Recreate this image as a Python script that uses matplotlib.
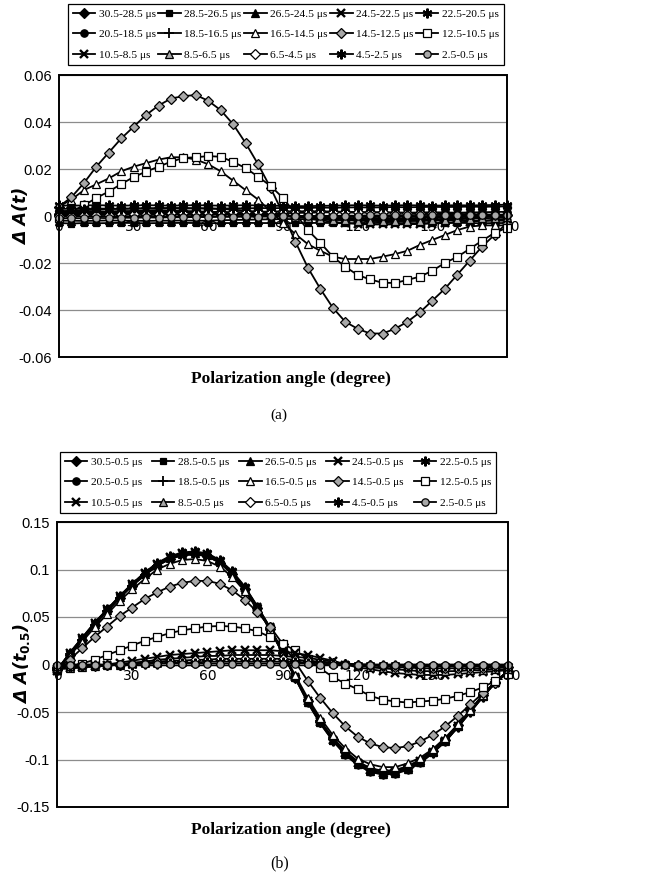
import matplotlib
matplotlib.use('Agg')
import matplotlib.pyplot as plt
from matplotlib.patches import Rectangle

plt.rcParams['mathtext.fontset'] = 'custom'
plt.rcParams['mathtext.it'] = 'DejaVu Sans:italic:bold'
plt.rcParams['mathtext.rm'] = 'DejaVu Sans:bold'

angles = [0, 5, 10, 15, 20, 25, 30, 35, 40, 45, 50, 55, 60, 65, 70, 75, 80, 85, 90,
          95, 100, 105, 110, 115, 120, 125, 130, 135, 140, 145, 150, 155, 160, 165, 170, 175, 180]

labels_a = ['30.5-28.5 μs', '28.5-26.5 μs', '26.5-24.5 μs', '24.5-22.5 μs', '22.5-20.5 μs',
            '20.5-18.5 μs', '18.5-16.5 μs', '16.5-14.5 μs', '14.5-12.5 μs', '12.5-10.5 μs',
            '10.5-8.5 μs', '8.5-6.5 μs', '6.5-4.5 μs', '4.5-2.5 μs', '2.5-0.5 μs']
labels_b = ['30.5-0.5 μs', '28.5-0.5 μs', '26.5-0.5 μs', '24.5-0.5 μs', '22.5-0.5 μs',
            '20.5-0.5 μs', '18.5-0.5 μs', '16.5-0.5 μs', '14.5-0.5 μs', '12.5-0.5 μs',
            '10.5-0.5 μs', '8.5-0.5 μs', '6.5-0.5 μs', '4.5-0.5 μs', '2.5-0.5 μs']

# ---------------- panel (a) data ----------------
a_30_28 = [0.001, 0.001, 0.0012, 0.001, 0.001, 0.0012, 0.001, 0.001, 0.001, 0.0012, 0.001, 0.001, 0.001,
           0.0008, 0.001, 0.0008, 0.0006, 0.0005, 0.0003, 0.0, -0.0002, -0.0004, -0.0006, -0.0008, -0.001,
           -0.001, -0.001, -0.001, -0.001, -0.0008, -0.0008, -0.0006, -0.0005, -0.0003, -0.0001, 0.0001, 0.0003]
a_28_26 = [-0.003, -0.0032, -0.003, -0.0031, -0.003, -0.0029, -0.003, -0.0031, -0.003, -0.003, -0.0029,
           -0.003, -0.0031, -0.003, -0.003, -0.0029, -0.003, -0.003, -0.0031, -0.003, -0.003, -0.0029,
           -0.003, -0.0031, -0.003, -0.003, -0.0029, -0.003, -0.003, -0.0031, -0.003, -0.003, -0.0029,
           -0.003, -0.0031, -0.003, -0.003]
a_26_24 = [-0.002, -0.002, -0.0021, -0.002, -0.0019, -0.002, -0.002, -0.0021, -0.002, -0.002, -0.0019,
           -0.002, -0.002, -0.0018, -0.0017, -0.0016, -0.0015, -0.0014, -0.0013, -0.0013, -0.0014, -0.0015,
           -0.0016, -0.0017, -0.0018, -0.0019, -0.002, -0.002, -0.0021, -0.002, -0.002, -0.0019, -0.002,
           -0.002, -0.0021, -0.002, -0.002]
a_24_22 = [0.002, 0.0021, 0.002, 0.002, 0.0019, 0.002, 0.002, 0.0021, 0.002, 0.002, 0.0019, 0.0018, 0.0016,
           0.0014, 0.0012, 0.001, 0.0007, 0.0004, 0.0001, -0.0002, -0.0005, -0.0008, -0.001, -0.0012, -0.0014,
           -0.0015, -0.0016, -0.0016, -0.0016, -0.0015, -0.0014, -0.0012, -0.001, -0.0008, -0.0005, -0.0002, 0.0001]
a_22_20 = [0.0045, 0.0044, 0.0045, 0.0046, 0.0045, 0.0044, 0.0045, 0.0046, 0.0045, 0.0044, 0.0045, 0.0046,
           0.0045, 0.0044, 0.0045, 0.0046, 0.0045, 0.0044, 0.0043, 0.0042, 0.0042, 0.0043, 0.0044, 0.0045,
           0.0046, 0.0045, 0.0044, 0.0045, 0.0046, 0.0045, 0.0044, 0.0045, 0.0046, 0.0045, 0.0046, 0.0047, 0.0048]
a_20_18 = [0.0015, 0.0016, 0.0015, 0.0014, 0.0015, 0.0016, 0.0015, 0.0014, 0.0015, 0.0016, 0.0015, 0.0014,
           0.0015, 0.0016, 0.0015, 0.0014, 0.0013, 0.0012, 0.0012, 0.0013, 0.0014, 0.0015, 0.0016, 0.0015,
           0.0014, 0.0015, 0.0016, 0.0015, 0.0014, 0.0015, 0.0016, 0.0015, 0.0014, 0.0015, 0.0016, 0.0017, 0.0018]
a_18_16 = [0.0005, 0.0006, 0.0005, 0.0004, 0.0005, 0.0006, 0.0005, 0.0004, 0.0005, 0.0006, 0.0005, 0.0004,
           0.0005, 0.0006, 0.0005, 0.0004, 0.0003, 0.0002, 0.0001, 0.0, -0.0001, -0.0002, -0.0003, -0.0003,
           -0.0004, -0.0004, -0.0004, -0.0003, -0.0003, -0.0002, -0.0001, 0.0, 0.0001, 0.0002, 0.0003, 0.0004, 0.0005]
a_16_14 = [0.004, 0.007, 0.011, 0.0135, 0.016, 0.019, 0.021, 0.0225, 0.024, 0.025, 0.025, 0.024, 0.022,
           0.019, 0.015, 0.011, 0.007, 0.002, -0.003, -0.0077, -0.012, -0.0148, -0.0173, -0.0183, -0.0183,
           -0.0183, -0.0173, -0.0162, -0.0148, -0.0123, -0.0102, -0.0081, -0.006, -0.0045, -0.004, -0.004, -0.004]
a_14_12 = [0.004, 0.008, 0.014, 0.021, 0.027, 0.033, 0.038, 0.043, 0.047, 0.050, 0.051, 0.0515, 0.049,
           0.045, 0.039, 0.031, 0.022, 0.012, 0.001, -0.011, -0.022, -0.031, -0.039, -0.045, -0.048, -0.050,
           -0.050, -0.048, -0.045, -0.041, -0.036, -0.031, -0.025, -0.019, -0.013, -0.008, -0.003]
a_12_10 = [-0.001, 0.002, 0.0045, 0.0077, 0.0104, 0.0136, 0.0166, 0.0189, 0.021, 0.0231, 0.0247, 0.025,
           0.0255, 0.0252, 0.023, 0.0204, 0.0167, 0.0128, 0.0077, 0.001, -0.006, -0.0114, -0.0173, -0.0216,
           -0.0251, -0.027, -0.0284, -0.0285, -0.0272, -0.0258, -0.0233, -0.020, -0.0174, -0.014, -0.0105,
           -0.0072, -0.005]
a_10_8 = [0.002, 0.0022, 0.0025, 0.0027, 0.003, 0.0031, 0.0032, 0.0033, 0.0034, 0.0034, 0.0034, 0.0033,
          0.0032, 0.003, 0.0027, 0.0023, 0.0018, 0.0012, 0.0005, -0.0002, -0.001, -0.0018, -0.0025, -0.003,
          -0.0034, -0.0036, -0.0036, -0.0036, -0.0035, -0.0034, -0.0032, -0.003, -0.0027, -0.0024, -0.002,
          -0.0016, -0.0012]
a_8_6 = [0.001, 0.0012, 0.0014, 0.0016, 0.0018, 0.002, 0.0021, 0.0022, 0.0022, 0.0022, 0.0021, 0.002,
         0.0018, 0.0016, 0.0013, 0.001, 0.0007, 0.0004, 0.0, -0.0004, -0.0008, -0.0012, -0.0015, -0.0018,
         -0.002, -0.0021, -0.0022, -0.0022, -0.0021, -0.002, -0.0018, -0.0016, -0.0014, -0.0012, -0.001,
         -0.0008, -0.0006]
a_6_4 = [0.0, 0.0002, 0.0004, 0.0005, 0.0006, 0.0007, 0.0008, 0.0009, 0.001, 0.0011, 0.0012, 0.0013,
         0.0014, 0.0015, 0.0016, 0.0017, 0.0018, 0.0019, 0.002, 0.002, 0.002, 0.002, 0.0019, 0.0018, 0.0017,
         0.0016, 0.0015, 0.0014, 0.0013, 0.0012, 0.0011, 0.001, 0.0009, 0.0008, 0.0007, 0.0006, 0.0005]
a_4_2 = [0.003, 0.0031, 0.003, 0.0032, 0.0031, 0.003, 0.0032, 0.0031, 0.003, 0.0032, 0.0031, 0.0033,
         0.0032, 0.0031, 0.0033, 0.0032, 0.0034, 0.0033, 0.0034, 0.0035, 0.0034, 0.0036, 0.0035, 0.0036,
         0.0037, 0.0036, 0.0037, 0.0038, 0.0037, 0.0038, 0.0039, 0.0038, 0.0039, 0.004, 0.0039, 0.004, 0.0041]
a_2_0 = [-0.001, -0.0009, -0.001, -0.0008, -0.0009, -0.0007, -0.0008, -0.0006, -0.0007, -0.0005, -0.0006,
         -0.0004, -0.0005, -0.0003, -0.0004, -0.0002, -0.0003, -0.0001, -0.0002, 0.0, -0.0001, 0.0001, 0.0,
         0.0002, 0.0001, 0.0003, 0.0002, 0.0004, 0.0003, 0.0005, 0.0004, 0.0005, 0.0004, 0.0005, 0.0004,
         0.0005, 0.0005]

# ---------------- panel (b) data ----------------
b_30 = [-0.006, 0.010, 0.026, 0.042, 0.056, 0.070, 0.083, 0.094, 0.104, 0.111, 0.115, 0.116, 0.114, 0.107,
        0.095, 0.079, 0.059, 0.037, 0.012, -0.014, -0.038, -0.060, -0.078, -0.092, -0.103, -0.110, -0.113,
        -0.112, -0.108, -0.101, -0.091, -0.079, -0.064, -0.048, -0.032, -0.018, -0.007]
b_28 = [-0.007, 0.011, 0.027, 0.043, 0.057, 0.071, 0.084, 0.096, 0.106, 0.113, 0.117, 0.118, 0.116, 0.109,
        0.097, 0.081, 0.060, 0.038, 0.013, -0.014, -0.040, -0.062, -0.080, -0.095, -0.106, -0.113, -0.116,
        -0.115, -0.111, -0.104, -0.093, -0.081, -0.066, -0.050, -0.034, -0.019, -0.007]
b_26 = [-0.006, 0.011, 0.027, 0.043, 0.057, 0.071, 0.084, 0.095, 0.105, 0.112, 0.116, 0.117, 0.115, 0.108,
        0.096, 0.080, 0.060, 0.038, 0.013, -0.013, -0.039, -0.061, -0.079, -0.094, -0.105, -0.112, -0.115,
        -0.114, -0.110, -0.103, -0.092, -0.080, -0.065, -0.049, -0.033, -0.018, -0.007]
b_24 = [-0.007, 0.012, 0.028, 0.044, 0.058, 0.072, 0.085, 0.096, 0.106, 0.113, 0.117, 0.118, 0.116, 0.109,
        0.097, 0.081, 0.061, 0.039, 0.013, -0.013, -0.038, -0.060, -0.079, -0.093, -0.104, -0.111, -0.114,
        -0.113, -0.109, -0.102, -0.092, -0.080, -0.065, -0.049, -0.033, -0.019, -0.008]
b_22 = [-0.006, 0.012, 0.028, 0.044, 0.058, 0.072, 0.085, 0.097, 0.107, 0.114, 0.118, 0.119, 0.117, 0.110,
        0.098, 0.082, 0.061, 0.039, 0.014, -0.013, -0.039, -0.061, -0.080, -0.094, -0.105, -0.112, -0.115,
        -0.114, -0.110, -0.103, -0.093, -0.081, -0.066, -0.050, -0.034, -0.019, -0.008]
b_20 = [-0.006, 0.011, 0.027, 0.043, 0.057, 0.071, 0.084, 0.095, 0.105, 0.112, 0.116, 0.117, 0.115, 0.108,
        0.096, 0.080, 0.060, 0.038, 0.013, -0.013, -0.038, -0.060, -0.078, -0.093, -0.104, -0.111, -0.114,
        -0.113, -0.109, -0.102, -0.092, -0.080, -0.065, -0.049, -0.033, -0.018, -0.007]
b_18 = [-0.005, 0.011, 0.026, 0.042, 0.056, 0.070, 0.083, 0.094, 0.104, 0.111, 0.115, 0.116, 0.114, 0.107,
        0.095, 0.079, 0.059, 0.037, 0.012, -0.013, -0.037, -0.059, -0.077, -0.091, -0.102, -0.109, -0.112,
        -0.111, -0.107, -0.100, -0.090, -0.078, -0.064, -0.048, -0.032, -0.018, -0.007]
b_16 = [-0.005, 0.009, 0.024, 0.039, 0.053, 0.067, 0.079, 0.090, 0.100, 0.106, 0.110, 0.111, 0.109, 0.103,
        0.092, 0.077, 0.058, 0.037, 0.014, -0.011, -0.035, -0.056, -0.074, -0.088, -0.099, -0.105, -0.108,
        -0.108, -0.104, -0.098, -0.089, -0.077, -0.063, -0.048, -0.032, -0.018, -0.007]
b_14 = [-0.005, 0.005, 0.017, 0.029, 0.040, 0.051, 0.060, 0.069, 0.076, 0.082, 0.086, 0.088, 0.088, 0.085,
        0.078, 0.068, 0.055, 0.040, 0.022, 0.003, -0.017, -0.035, -0.051, -0.065, -0.076, -0.083, -0.087,
        -0.088, -0.086, -0.081, -0.074, -0.065, -0.054, -0.042, -0.030, -0.019, -0.008]
b_12 = [-0.005, -0.002, 0.001, 0.005, 0.010, 0.015, 0.020, 0.025, 0.029, 0.033, 0.036, 0.038, 0.040, 0.0405,
        0.040, 0.038, 0.035, 0.029, 0.022, 0.015, 0.006, -0.004, -0.013, -0.020, -0.026, -0.033, -0.037,
        -0.039, -0.040, -0.039, -0.038, -0.036, -0.033, -0.029, -0.024, -0.017, -0.010]
b_10 = [-0.005, -0.004, -0.003, -0.002, 0.000, 0.002, 0.004, 0.006, 0.008, 0.010, 0.011, 0.012, 0.013, 0.014,
        0.015, 0.015, 0.015, 0.015, 0.014, 0.012, 0.010, 0.007, 0.004, 0.000, -0.003, -0.005, -0.007, -0.009,
        -0.010, -0.011, -0.011, -0.011, -0.010, -0.009, -0.008, -0.007, -0.006]
b_8 = [-0.004, -0.004, -0.003, -0.002, -0.001, 0.000, 0.002, 0.003, 0.005, 0.006, 0.007, 0.008, 0.009, 0.009,
       0.010, 0.010, 0.010, 0.010, 0.009, 0.008, 0.007, 0.005, 0.003, 0.001, -0.001, -0.003, -0.004, -0.005,
       -0.006, -0.007, -0.007, -0.007, -0.007, -0.006, -0.006, -0.005, -0.005]
b_6 = [-0.003, -0.003, -0.002, -0.002, -0.001, 0.000, 0.001, 0.002, 0.003, 0.004, 0.004, 0.005, 0.005, 0.006,
       0.006, 0.006, 0.006, 0.006, 0.006, 0.005, 0.004, 0.003, 0.002, 0.001, 0.000, -0.001, -0.002, -0.003,
       -0.003, -0.004, -0.004, -0.004, -0.004, -0.004, -0.004, -0.003, -0.003]
b_4 = [-0.002, -0.002, -0.002, -0.001, -0.001, 0.000, 0.000, 0.001, 0.001, 0.002, 0.002, 0.002, 0.003, 0.003,
       0.003, 0.003, 0.003, 0.003, 0.003, 0.003, 0.002, 0.002, 0.001, 0.001, 0.000, 0.000, -0.001, -0.001,
       -0.002, -0.002, -0.002, -0.002, -0.002, -0.002, -0.002, -0.002, -0.002]
b_2 = [0.000, 0.000, 0.000, 0.000, 0.000, 0.001, 0.001, 0.001, 0.001, 0.001, 0.001, 0.001, 0.001, 0.001,
       0.001, 0.001, 0.001, 0.001, 0.001, 0.001, 0.001, 0.000, 0.000, 0.000, 0.000, 0.000, 0.000, 0.000,
       0.000, 0.000, 0.000, 0.000, 0.000, 0.000, 0.000, 0.000, 0.000]

series_a = [a_30_28, a_28_26, a_26_24, a_24_22, a_22_20, a_20_18, a_18_16, a_16_14, a_14_12, a_12_10,
            a_10_8, a_8_6, a_6_4, a_4_2, a_2_0]
series_b = [b_30, b_28, b_26, b_24, b_22, b_20, b_18, b_16, b_14, b_12, b_10, b_8, b_6, b_4, b_2]

xticks = [0, 30, 60, 90, 120, 150, 180]
xticklabels = ['0', '30', '60', '90', '120', '150', '180']
yticks_a = [-0.06, -0.04, -0.02, 0, 0.02, 0.04, 0.06]
yticklabels_a = ['-0.06', '-0.04', '-0.02', '0', '0.02', '0.04', '0.06']
yticks_b = [-0.15, -0.1, -0.05, 0, 0.05, 0.1, 0.15]
yticklabels_b = ['-0.15', '-0.1', '-0.05', '0', '0.05', '0.1', '0.15']

# ---------------- styles ----------------
GREY = '#a8a8a8'
STY = [
    dict(marker='D', mfc='black', ms=4.8),
    dict(marker='s', mfc='black', ms=5.0),
    dict(marker='^', mfc='black', ms=5.8),
    dict(marker='x', mfc='black', ms=6.0, mew=1.7),
    dict(marker=(6, 2, 0), mfc='black', ms=7.0, mew=1.5),
    dict(marker='o', mfc='black', ms=5.3),
    dict(marker='+', mfc='black', ms=7.0, mew=1.3),
    dict(marker='^', mfc='white', ms=5.8),
    dict(marker='D', mfc=GREY, ms=4.8),
    dict(marker='s', mfc='white', ms=5.2),
    dict(marker='x', mfc='black', ms=6.0, mew=1.7),
    dict(marker='^', mfc=GREY, ms=5.8),
    dict(marker='D', mfc='white', ms=4.8),
    dict(marker=(6, 2, 0), mfc='black', ms=7.0, mew=1.5),
    dict(marker='o', mfc=GREY, ms=5.3),
]

TICKFONT = ['Liberation Sans Narrow', 'Liberation Sans', 'DejaVu Sans']
SERIF = ['Liberation Serif', 'DejaVu Serif']

fig = plt.figure(figsize=(6.62, 8.74), dpi=100)
W, H = 662.0, 874.0


def add_axes_px(left, top, right, bottom):
    return fig.add_axes([left / W, 1 - bottom / H, (right - left) / W, (bottom - top) / H])


def draw_panel(ax, series, labels, yticks, yticklabels, ylim, legend_box_top, legend_left, colsp):
    handles = []
    for data, st in zip(series, STY):
        ln, = ax.plot(angles, data, color='black', lw=1.3, marker=st['marker'], mfc=st['mfc'],
                      mec='black', ms=st['ms'], mew=st.get('mew', 0.9), clip_on=False, zorder=3)
        handles.append(ln)
    ax.set_xlim(0, 180)
    ax.set_ylim(*ylim)
    ax.set_yticks(yticks)
    ax.set_yticklabels(yticklabels, fontfamily=TICKFONT, fontsize=10.5)
    ax.set_xticks(xticks)
    ax.set_xticklabels(xticklabels, fontfamily=TICKFONT, fontsize=10.5)
    ax.yaxis.grid(True, color='#8c8c8c', lw=0.9)
    ax.set_axisbelow(True)
    for s in ['left', 'right', 'top']:
        ax.spines[s].set_visible(False)
    ax.spines['bottom'].set_position(('data', 0))
    ax.spines['bottom'].set_linewidth(1.0)
    ax.tick_params(axis='y', length=0, pad=5)
    ax.tick_params(axis='x', length=0, pad=3)
    ax.add_patch(Rectangle((0, 0), 1, 1, transform=ax.transAxes, fill=False, ec='black',
                           lw=1.4, clip_on=False, zorder=4))
    # row-wise legend order
    order = [r * 5 + c for c in range(5) for r in range(3)]
    leg = fig.legend([handles[i] for i in order], [labels[i] for i in order], ncol=5,
                     loc='upper left', bbox_to_anchor=(legend_left / W, 1 - legend_box_top / H),
                     frameon=True, fancybox=False, edgecolor='black', framealpha=1,
                     prop=dict(family=SERIF, size=8.2), handlelength=2.0, handletextpad=0.3,
                     columnspacing=colsp, labelspacing=0.95, borderpad=0.4, borderaxespad=0)
    leg.get_frame().set_linewidth(0.9)
    return ax


ax_a = add_axes_px(59, 75, 507, 357)
draw_panel(ax_a, series_a, labels_a, yticks_a, yticklabels_a, (-0.06, 0.06), 4, 68, 0.2)
ax_b = add_axes_px(57, 522, 508, 807)
draw_panel(ax_b, series_b, labels_b, yticks_b, yticklabels_b, (-0.15, 0.15), 452, 60, 0.85)

fig.text(22 / W, 1 - 216 / H, 'Δ A(t)', rotation=90, ha='center', va='center',
         fontsize=12.5, fontweight='bold', fontstyle='italic', family='DejaVu Sans')
fig.text(22 / W, 1 - 664 / H, r'Δ A($t_{0.5}$)', rotation=90, ha='center', va='center',
         fontsize=12.5, fontweight='bold', fontstyle='italic', family='DejaVu Sans')

fig.text(291 / W, 1 - 379 / H, 'Polarization angle (degree)', ha='center', va='center',
         fontsize=12.5, fontweight='bold', family=SERIF)
fig.text(291 / W, 1 - 830 / H, 'Polarization angle (degree)', ha='center', va='center',
         fontsize=12.5, fontweight='bold', family=SERIF)
fig.text(279 / W, 1 - 415 / H, '(a)', ha='center', va='center', fontsize=11, family=SERIF)
fig.text(280 / W, 1 - 863 / H, '(b)', ha='center', va='center', fontsize=11.5, family=SERIF)

fig.savefig('out.png', dpi=100, facecolor='white')
